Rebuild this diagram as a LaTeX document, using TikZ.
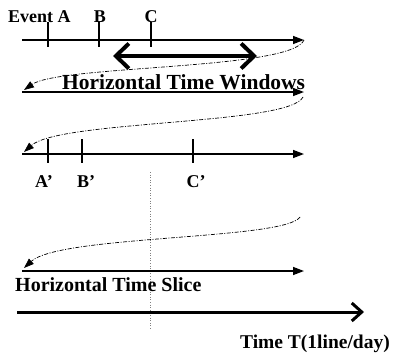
\documentclass[tikz,border=0pt]{standalone}
\usepackage{fontspec}
\setmainfont{Liberation Serif}
\usetikzlibrary{arrows.meta}
\begin{document}
\begin{tikzpicture}[x=1pt,y=-1pt,
  axis/.style={line width=1.4pt,-{Triangle[length=11pt,width=8pt]}},
  tickmark/.style={line width=1.2pt},
  wrap/.style={line width=0.7pt,dash pattern=on 4pt off 1.5pt on 1pt off 1.5pt,-{Triangle[length=10pt,width=7pt]}},
  lbl/.style={font=\fontsize{18}{20}\selectfont\bfseries, inner sep=0pt, anchor=base},
  title/.style={font=\fontsize{20}{22}\selectfont\bfseries, inner sep=0pt},
]
\useasboundingbox (0,0) rectangle (393,359);
% ---------- line 1
\coordinate (L1s) at (22,40); \coordinate (L1e) at (304,40);
\draw[axis] (L1s) -- (L1e);
\foreach \n/\x in {a/48,b/99,c/151}{
  \coordinate (t1\n) at (\x,22); \coordinate (u1\n) at (\x,47);
  \draw[tickmark] (t1\n) -- (u1\n);
}
\node[lbl, anchor=base west] (evA) at (8,22) {Event A};
\node[lbl] (evB) at (100,22) {B};
\node[lbl] (evC) at (151,22) {C};
% double arrow
\coordinate (dL) at (113,56); \coordinate (dR) at (257,56);
\draw[line width=4pt,{Straight Barb[length=13pt,width=25pt]}-{Straight Barb[length=13pt,width=25pt]}] (dL) -- (dR);
% ---------- line 2
\coordinate (L2s) at (22,92); \coordinate (L2e) at (304,92);
\draw[axis] (L2s) -- (L2e);
\node[title, font=\fontsize{21.5}{23}\selectfont\bfseries, anchor=base west] (htw) at (62,89) {Horizontal Time Windows};
\coordinate (c1e) at (24,90);
\draw[wrap] (L1e) .. controls (292,70) and (60,65) .. (c1e);
% ---------- line 3
\coordinate (L3s) at (22,154); \coordinate (L3e) at (304,154);
\draw[axis] (L3s) -- (L3e);
\foreach \n/\x in {a/48,b/82,c/193}{
  \coordinate (t3\n) at (\x,139); \coordinate (u3\n) at (\x,163);
  \draw[tickmark] (t3\n) -- (u3\n);
}
\node[lbl] (pA) at (44,187) {A’};
\node[lbl] (pB) at (86,187) {B’};
\node[lbl] (pC) at (196,187) {C’};
\coordinate (c2s) at (303,97); \coordinate (c2e) at (24,152);
\draw[wrap] (c2s) .. controls (290,125) and (60,120) .. (c2e);
% dotted vertical
\coordinate (vt) at (150,172); \coordinate (vb) at (150,330);
\draw[gray, line width=0.6pt, dotted] (vt) -- (vb);
% ---------- line 4
\coordinate (c3s) at (300,217); \coordinate (c3e) at (24,268);
\draw[wrap] (c3s) .. controls (285,240) and (60,235) .. (c3e);
\coordinate (L4s) at (22,271); \coordinate (L4e) at (304,271);
\draw[axis] (L4s) -- (L4e);
\node[title, anchor=base west] (hts) at (15,291) {Horizontal Time Slice};
% ---------- thick time arrow
\coordinate (Ts) at (17,312); \coordinate (Te) at (364,312);
\draw[line width=3pt,-{Straight Barb[length=10pt,width=18pt]}] (Ts) -- (Te);
\node[title, font=\fontsize{19.5}{21}\selectfont\bfseries, anchor=base east] (tt) at (390,348) {Time T(1line/day)};
\end{tikzpicture}
\end{document}
